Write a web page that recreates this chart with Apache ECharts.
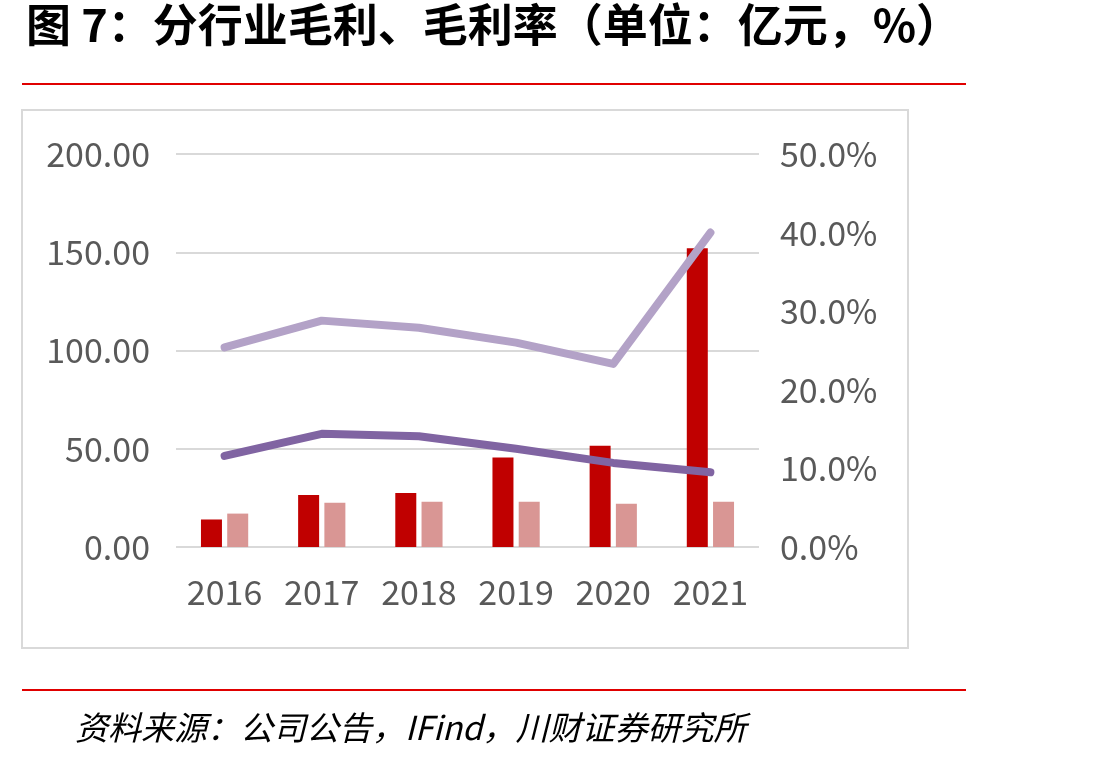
<!DOCTYPE html>
<html>
<head>
<meta charset="utf-8">
<script src="https://cdn.jsdelivr.net/npm/echarts@6/dist/echarts.min.js"></script>
<style>
  html, body { margin: 0; padding: 0; background: #fff; }
  #main { width: 1114px; height: 764px; }
</style>
</head>
<body>
<div id="main"></div>
<script>
// 分行业毛利、毛利率
const years = ['2016', '2017', '2018', '2019', '2020', '2021']
const profitA = [14.0, 26.5, 27.5, 45.5, 51.5, 152.0]   // 深红柱
const profitB = [17.0, 22.5, 23.0, 23.0, 22.0, 23.0]    // 浅红柱
const marginA = [25.4, 28.8, 27.9, 26.0, 23.3, 40.0]    // 浅紫线 (%)
const marginB = [11.6, 14.4, 14.1, 12.5, 10.7, 9.5]     // 深紫线 (%)

const labelFont = 'Noto Sans CJK SC'
const chart = echarts.init(document.getElementById('main'))

const option = {
  animation: false,
  backgroundColor: '#fff',
  textStyle: { fontFamily: labelFont },
  graphic: [
    {
      type: 'text', left: 26, top: 2,
      style: {
        text: '图 7：分行业毛利、毛利率（单位：亿元，%）',
        font: 'bold 45px "Noto Sans CJK SC"', fill: '#000'
      }
    },
    { type: 'line', shape: { x1: 22, y1: 84, x2: 966, y2: 84 }, style: { stroke: '#e00000', lineWidth: 2 } },
    { type: 'rect', shape: { x: 22, y: 110, width: 886, height: 538 }, style: { fill: 'none', stroke: '#d9d9d9', lineWidth: 2 } },
    { type: 'line', shape: { x1: 22, y1: 690, x2: 966, y2: 690 }, style: { stroke: '#e00000', lineWidth: 2 } },
    {
      type: 'text', left: 75, top: 711,
      style: {
        text: '资料来源：公司公告，IFind，川财证券研究所',
        font: 'italic 33px "Noto Sans CJK SC"', fill: '#000'
      }
    }
  ],
  grid: { left: 176, right: 355, top: 154, bottom: 217 },
  xAxis: {
    type: 'category',
    data: years,
    axisLine: { show: false },
    axisTick: { show: false },
    axisLabel: { color: '#595959', fontSize: 34, margin: 28, interval: 0 }
  },
  yAxis: [
    {
      type: 'value', min: 0, max: 200, interval: 50,
      axisLine: { show: false }, axisTick: { show: false },
      splitLine: { lineStyle: { color: '#d9d9d9', width: 2 } },
      axisLabel: { color: '#595959', fontSize: 34, margin: 26, formatter: v => v.toFixed(2) }
    },
    {
      type: 'value', min: 0, max: 50, interval: 10,
      axisLine: { show: false }, axisTick: { show: false },
      splitLine: { show: false },
      axisLabel: { color: '#595959', fontSize: 34, margin: 21, formatter: v => v.toFixed(1) + '%' }
    }
  ],
  series: [
    { type: 'bar', data: profitA, barWidth: 21, barGap: '25%', itemStyle: { color: '#c00000' } },
    { type: 'bar', data: profitB, barWidth: 21, barGap: '25%', itemStyle: { color: '#d99694' } },
    {
      type: 'line', yAxisIndex: 1, data: marginA, symbol: 'none',
      lineStyle: { color: '#b3a2c7', width: 8, cap: 'round', join: 'round' }
    },
    {
      type: 'line', yAxisIndex: 1, data: marginB, symbol: 'none',
      lineStyle: { color: '#8064a2', width: 8, cap: 'round', join: 'round' }
    }
  ]
}

chart.setOption(option)
</script>
</body>
</html>
